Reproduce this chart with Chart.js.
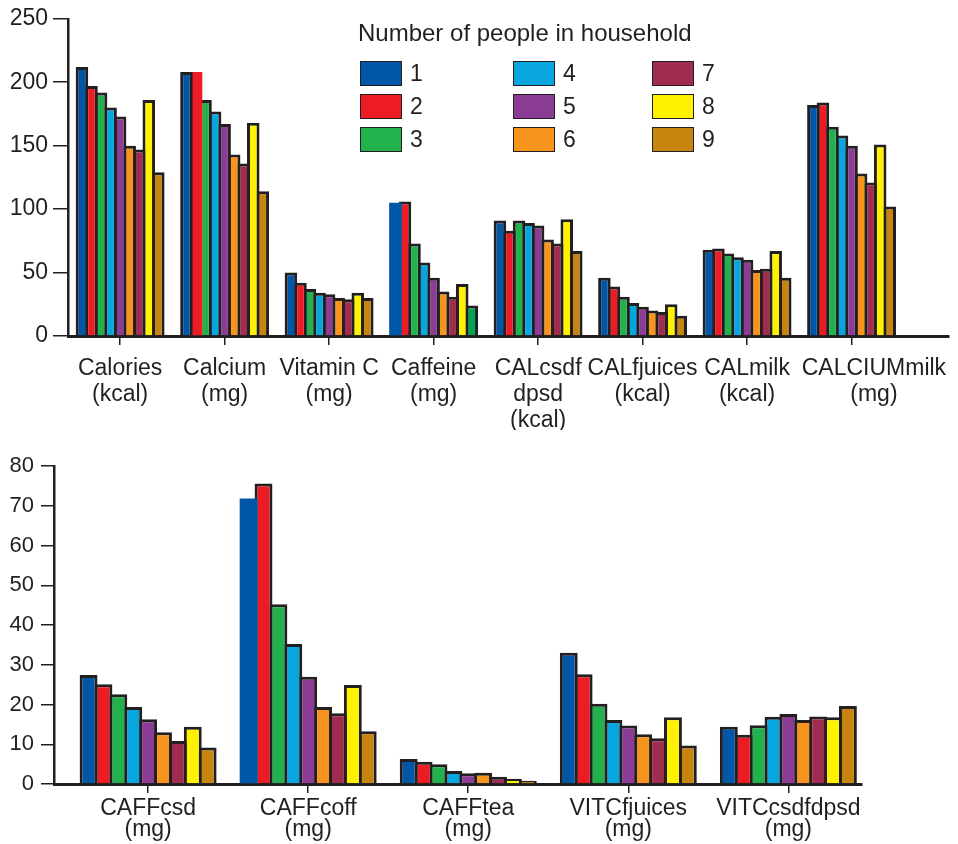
<!DOCTYPE html>
<html>
<head>
<meta charset="utf-8">
<script src="https://cdn.jsdelivr.net/npm/chart.js@4"></script>
<style>
  body { margin: 0; background: #fff; font-family: "Liberation Sans", Arial, sans-serif; color: #231f20; }
  #wrap { position: relative; width: 958px; height: 844px; overflow: hidden; }
  canvas { position: absolute; left: 0; }
  #topChart { top: 0; }
  #bottomChart { top: 430px; }
  #legendTitle { position: absolute; left: 358px; top: 19px; font-size: 24px; line-height: 28px; white-space: nowrap; }
  .lg-box { position: absolute; width: 40px; height: 23px; border: 1.5px solid #231f20; }
  .lg-text { position: absolute; font-size: 23px; line-height: 26px; }
</style>
</head>
<body>
<div id="wrap">
  <canvas id="topChart" width="958" height="430"></canvas>
  <canvas id="bottomChart" width="958" height="414"></canvas>
  <div id="legendTitle">Number of people in household</div>
</div>
<script>
// legend: number of people in household
const householdSizes = ['1', '2', '3', '4', '5', '6', '7', '8', '9'];
const sizeColors = ['#0057a8', '#ed1c24', '#22b14c', '#08a6de', '#8b3d96', '#f7941d', '#a02c4f', '#fff200', '#c5850f'];

// top panel
const topCategories = [
  ['Calories', '(kcal)'], ['Calcium', '(mg)'], ['Vitamin C', '(mg)'], ['Caffeine', '(mg)'],
  ['CALcsdf', 'dpsd', '(kcal)'], ['CALfjuices', '(kcal)'], ['CALmilk', '(kcal)'], ['CALCIUMmilk', '(mg)']
];
const calories    = [212, 197, 192, 180, 173, 150, 147, 186, 129];
const calcium     = [208, 208, 186, 177, 167, 143, 136, 168, 114];
const vitaminC    = [50, 42, 37, 34, 33, 30, 29, 34, 30];
const caffeine    = [105, 106, 73, 58, 46, 35, 31, 41, 24];
const calCsdfdpsd = [91, 83, 91, 89, 87, 76, 73, 92, 67];
const calFjuices  = [46, 39, 31, 26, 23, 20, 19, 25, 16];
const calMilk     = [68, 69, 65, 62, 60, 52, 53, 67, 46];
const calciumMilk = [182, 184, 165, 158, 150, 128, 121, 151, 102];
const topTicks = [0, 50, 100, 150, 200, 250];

// bottom panel
const bottomCategories = [
  ['CAFFcsd', '(mg)'], ['CAFFcoff', '(mg)'], ['CAFFtea', '(mg)'], ['VITCfjuices', '(mg)'], ['VITCcsdfdpsd', '(mg)']
];
const caffCsd      = [27.4, 25.1, 22.6, 19.4, 16.3, 13, 10.8, 14.4, 9.2];
const caffCoff     = [71.8, 75.6, 45.2, 35.2, 27, 19.4, 17.8, 24.9, 13.3];
const caffTea      = [6.3, 5.6, 5, 3.3, 2.7, 2.8, 1.8, 1.3, 0.8];
const vitcFjuices  = [33, 27.6, 20.2, 16.1, 14.7, 12.5, 11.5, 16.8, 9.7];
const vitcCsdfdpsd = [14.4, 12.4, 14.8, 16.9, 17.6, 16.1, 17, 16.8, 19.6];
const bottomTicks = [0, 10, 20, 30, 40, 50, 60, 70, 80];

const ink = '#231f20';
const font = 'Liberation Sans, Arial, Helvetica, sans-serif';

// html legend, 3 columns of 3
const legendCols = [360, 513, 652];
householdSizes.forEach(function (name, i) {
  const col = Math.floor(i / 3), row = i % 3;
  const box = document.createElement('div');
  box.className = 'lg-box';
  box.style.left = legendCols[col] + 'px';
  box.style.top = (61 + row * 33) + 'px';
  box.style.background = sizeColors[i];
  const txt = document.createElement('div');
  txt.className = 'lg-text';
  txt.textContent = name;
  txt.style.left = (legendCols[col] + 50) + 'px';
  txt.style.top = (60 + row * 33) + 'px';
  document.getElementById('wrap').appendChild(box);
  document.getElementById('wrap').appendChild(txt);
});

function makePanel(id, cats, rows, ticks, s) {
  const datasets = householdSizes.map(function (name, i) {
    return {
      label: name,
      data: rows.map(function (row, j) { return { x: j, y: row[i] }; }),
      backgroundColor: function (c) {
        const k = i + ':' + c.dataIndex;
        return (s.fills && s.fills[k]) || sizeColors[i];
      },
      borderColor: ink,
      borderWidth: function (c) {
        return s.noBorder && s.noBorder.indexOf(i + ':' + c.dataIndex) >= 0 ? 0 : 3;
      },
      categoryPercentage: s.catPct,
      barPercentage: s.barPct
    };
  });

  return new Chart(document.getElementById(id).getContext('2d'), {
    type: 'bar',
    data: { datasets: datasets },
    options: {
      responsive: false,
      animation: false,
      devicePixelRatio: 1,
      layout: { padding: { top: s.top, right: s.right, left: 0, bottom: 0 } },
      plugins: { legend: { display: false }, tooltip: { enabled: false } },
      scales: {
        x: {
          type: 'linear',
          min: s.xmin,
          max: s.xmax,
          offset: false,
          afterBuildTicks: function (sc) { sc.ticks = cats.map(function (_, j) { return { value: j }; }); },
          afterFit: function (sc) { sc.height = s.xHeight; },
          grid: { offset: false, drawOnChartArea: false, tickLength: 9, color: ink, lineWidth: 1.5 },
          border: { color: ink, width: 3 },
          ticks: {
            autoSkip: false, maxRotation: 0, minRotation: 0, padding: s.xPad,
            color: ink, font: { family: font, size: 23, lineHeight: s.xLine },
            callback: function (v) {
              const shift = (s.labelShift && s.labelShift[v]) || 0;
              return cats[v].map(function (t) { return ' '.repeat(shift) + t; });
            }
          }
        },
        y: {
          min: ticks[0],
          max: ticks[ticks.length - 1],
          afterBuildTicks: function (sc) { sc.ticks = ticks.map(function (t) { return { value: t }; }); },
          afterFit: function (sc) { sc.width = s.yWidth; },
          grid: { drawOnChartArea: false, tickLength: s.yTick, color: ink, lineWidth: 1.5 },
          border: { color: ink, width: 2.5 },
          ticks: { padding: s.yPad, color: ink, font: { family: font, size: s.yFont } }
        }
      }
    }
  });
}

makePanel('topChart', topCategories,
  [calories, calcium, vitaminC, caffeine, calCsdfdpsd, calFjuices, calMilk, calciumMilk], topTicks, {
    top: 17, right: 8, xHeight: 94, yWidth: 68, yTick: 15, yPad: 5, yFont: 23, xPad: 11, xLine: '26px',
    xmin: -0.499, xmax: 7.927, catPct: 0.822, barPct: 1.314,
    noBorder: ['1:1', '0:3'], fills: { '8:3': '#00a651' }, labelShift: { 7: 7 }
  });

makePanel('bottomChart', bottomCategories,
  [caffCsd, caffCoff, caffTea, vitcFjuices, vitcCsdfdpsd], bottomTicks, {
    top: 36, right: 96, xHeight: 60, yWidth: 54, yTick: 13, yPad: 7, yFont: 22, xPad: 5, xLine: '21px',
    xmin: -0.588, xmax: 4.46, catPct: 0.837, barPct: 1.2015,
    noBorder: ['0:1']
  });
</script>
</body>
</html>
